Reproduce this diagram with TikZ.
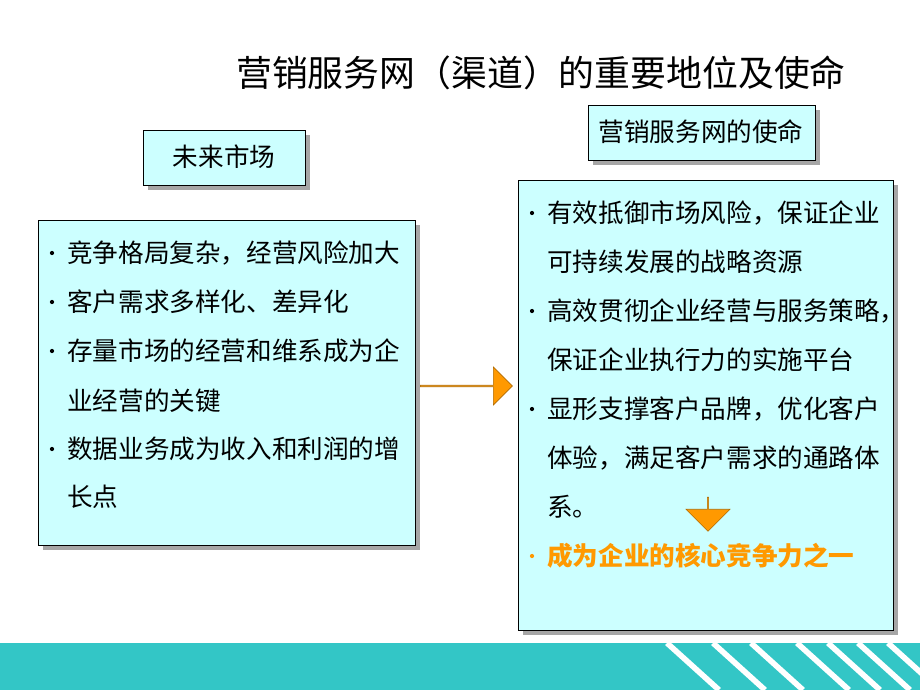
\documentclass[tikz,border=0pt]{standalone}
\usepackage{fontspec}
\newfontfamily\cjk{Noto Sans CJK SC}
\usetikzlibrary{shapes.arrows}
\definecolor{boxfill}{HTML}{CCFFFF}
\definecolor{arroworange}{HTML}{FF9900}
\definecolor{stripeteal}{HTML}{33C6C6}
\tikzset{
  panel/.style={draw=black, fill=boxfill, line width=0.6pt},
  shade/.style={fill=gray!70, draw=none},
  line/.style={anchor=west, font=\cjk\fontsize{18.2}{20}\selectfont, inner sep=0pt},
  dot/.style={circle, fill=black, inner sep=0pt, minimum size=3pt},
}
\begin{document}
\begin{tikzpicture}[x=0.025cm,y=-0.025cm]
\useasboundingbox (0,0) rectangle (920,690);
\fill[white] (0,0) rectangle (920,690);

% title
\node[font=\cjk\fontsize{25.5}{28}\selectfont] (title) at (541,73) {营销服务网（渠道）的重要地位及使命};

% heading boxes
\fill[shade] (148,135) rectangle (310,190);
\draw[panel] (143,130) rectangle (305,185);
\node[font=\cjk\fontsize{18.2}{20}\selectfont] (market) at (224,157) {未来市场};
\fill[shade] (593,110) rectangle (820,165);
\draw[panel] (588,105) rectangle (815,160);
\node[font=\cjk\fontsize{18.2}{20}\selectfont] (mission) at (701,132) {营销服务网的使命};

% left panel
\fill[shade] (43,225) rectangle (420,550);
\draw[panel] (38,220) rectangle (415,545);
\foreach \yy in {253,302,351,449}
  \node[dot] at (52,\yy) {};
\foreach \yy/\txt in {253/竞争格局复杂，经营风险加大, 302/客户需求多样化、差异化, 351/存量市场的经营和维系成为企, 401/业经营的关键, 449/数据业务成为收入和利润的增, 497/长点}
  \node[line] at (67,\yy) {\txt};

% right panel
\fill[shade] (523,185) rectangle (898,635);
\draw[panel] (518,180) rectangle (893,630);
\foreach \yy in {213,311,409}
  \node[dot] at (532,\yy) {};
\node[dot, fill=arroworange] at (532,556) {};
\foreach \yy/\txt in {213/有效抵御市场风险，保证企业, 262/可持续发展的战略资源, 311/高效贯彻企业经营与服务策略，, 360/保证企业执行力的实施平台, 409/显形支撑客户品牌，优化客户, 458/体验，满足客户需求的通路体, 507/系。}
  \node[line] at (547,\yy) {\txt};
\node[line, text=arroworange, font=\cjk\bfseries\fontsize{18.2}{20}\selectfont] (core) at (547,556) {成为企业的核心竞争力之一};

% arrows
\node[single arrow, draw=arroworange!70!black, fill=arroworange, minimum height=92*0.025cm, minimum width=38*0.025cm, single arrow head extend=7*0.025cm, inner sep=0pt] (toright) at (466,386) {};
\node[single arrow, shape border rotate=270, draw=arroworange!70!black, fill=arroworange, minimum height=34*0.025cm, minimum width=44*0.025cm, single arrow head extend=11*0.025cm, inner sep=0pt] (todown) at (708,514) {};

% bottom band
\fill[stripeteal] (0,643) rectangle (920,690);
\begin{scope}
\clip (0,643) rectangle (920,690);
\foreach \xx in {667,713,751,797,828,858,888}
  \draw[white, line width=4pt] (\xx,643) -- (\xx+52,690);
\end{scope}
\end{tikzpicture}
\end{document}
